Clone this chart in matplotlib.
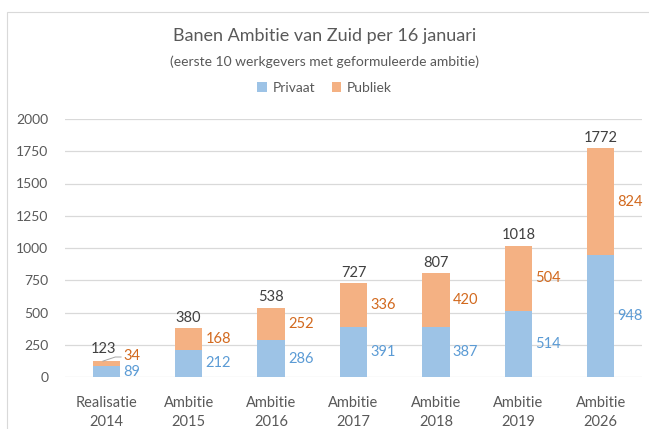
import matplotlib.pyplot as plt
import numpy as np
from matplotlib.patches import Rectangle

# data
categories = ['Realisatie\n2014', 'Ambitie\n2015', 'Ambitie\n2016', 'Ambitie\n2017',
              'Ambitie\n2018', 'Ambitie\n2019', 'Ambitie\n2026']
privaat = [89, 212, 286, 391, 387, 514, 948]
publiek = [34, 168, 252, 336, 420, 504, 824]
totaal = [123, 380, 538, 727, 807, 1018, 1772]
y_ticks = [0, 250, 500, 750, 1000, 1250, 1500, 1750, 2000]

plt.rcParams['font.family'] = ['Lato', 'DejaVu Sans']

blue = '#9dc3e6'
orange = '#f4b183'
blue_txt = '#5b9bd5'
orange_txt = '#d2691e'
grey_txt = '#595959'

fig = plt.figure(figsize=(6.49, 4.29), dpi=100)
ax = fig.add_axes([65/649, 1 - 377/429, (642 - 65)/649, (377 - 119)/429])

# chart frame
fig.patches.append(Rectangle((7/649, -0.05), 1.0, 1 - 12/429 + 0.05,
                             transform=fig.transFigure, fill=False,
                             edgecolor='#d9d9d9', linewidth=0.8))

x = np.arange(len(categories))
width = 0.33

ax.bar(x, privaat, width, color=blue, label='Privaat', zorder=2)
ax.bar(x, publiek, width, bottom=privaat, color=orange, label='Publiek', zorder=2)

ax.set_xlim(-0.5, len(categories) - 0.5)
ax.set_ylim(0, 2000)
ax.set_yticks(y_ticks)
ax.set_xticks(x)
ax.set_xticklabels(categories, fontsize=10.5, color=grey_txt, linespacing=1.45)
ax.tick_params(axis='y', labelsize=10, labelcolor=grey_txt, length=0, pad=12)
ax.tick_params(axis='x', length=0, pad=14)
ax.grid(axis='y', color='#d9d9d9', linewidth=0.9, zorder=0)
for s in ax.spines.values():
    s.set_visible(False)

# value labels
for i in range(len(categories)):
    xr = x[i] + width / 2 + 0.04
    ax.text(xr, privaat[i] / 2 if i > 0 else privaat[i] / 2 - 5, str(privaat[i]),
            ha='left', va='center', fontsize=10.5, color=blue_txt)
    top = privaat[i] + publiek[i]
    if i == 0:
        # small segment: label pushed up with a leader line
        ax.text(xr, top + 40, str(publiek[i]),
                ha='left', va='center', fontsize=10.5, color=orange_txt)
        ax.plot([x[i] - 0.04, x[i] + 0.11, x[i] + 0.18],
                [top, top + 32, top + 32], color='#a6a6a6', linewidth=0.7)
        ax.text(x[i] - 0.03, totaal[i] + 40, str(totaal[i]), ha='center', va='bottom',
                fontsize=10.5, color='#404040')
    else:
        ax.text(xr, privaat[i] + publiek[i] / 2, str(publiek[i]),
                ha='left', va='center', fontsize=10.5, color=orange_txt)
        ax.text(x[i], totaal[i] + 25, str(totaal[i]), ha='center', va='bottom',
                fontsize=10.5, color='#404040')

fig.text(0.5, 1 - 36/429, 'Banen Ambitie van Zuid per 16 januari', ha='center',
         va='center', fontsize=13, color=grey_txt)
fig.text(0.5, 1 - 62/429, '(eerste 10 werkgevers met geformuleerde ambitie)', ha='center',
         va='center', fontsize=10, color=grey_txt)
fig.legend(loc='center', bbox_to_anchor=(0.5, 1 - 88/429), ncol=2, frameon=False,
           fontsize=10, handlelength=0.7, handleheight=0.7, handletextpad=0.4,
           columnspacing=1.2, labelcolor=grey_txt)

fig.savefig('out.png', dpi=100)
